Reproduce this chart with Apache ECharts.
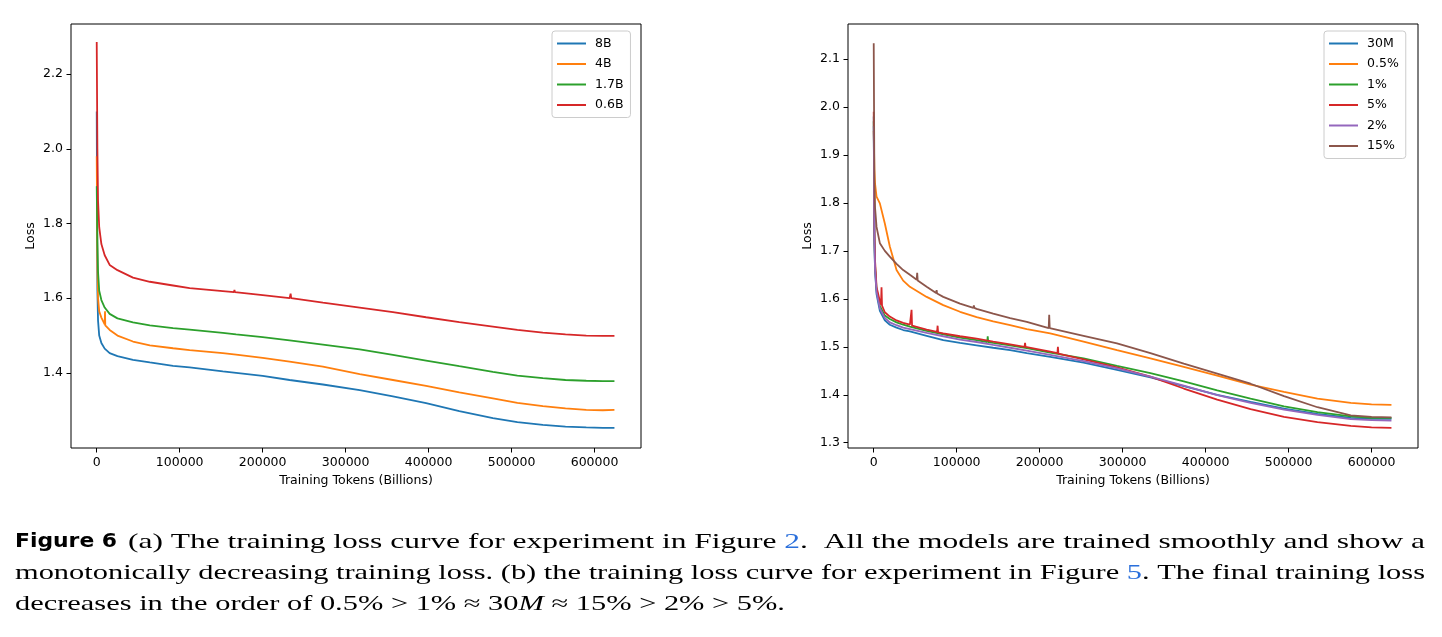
<!DOCTYPE html>
<html>
<head>
<meta charset="utf-8">
<script src="https://cdn.jsdelivr.net/npm/echarts@6/dist/echarts.min.js"></script>
<style>
  html, body { margin: 0; padding: 0; background: #fff; }
  #main { width: 1442px; height: 637px; }
</style>
</head>
<body>
<div id="main"></div>
<script>
// ---- (a) model size runs ----
var tokensA = [0, 800, 1600, 3000, 5600, 9600, 15600, 25000, 43700, 64000, 92000, 112000, 152000, 168000,
    200000, 232500, 272600, 317000, 357000, 397000, 437000, 477500, 507000, 537700, 565000, 590000, 610000, 624000];
var loss8B = [2.10, 1.62, 1.54, 1.50, 1.48, 1.465, 1.453, 1.445, 1.435, 1.428, 1.419, 1.415, 1.404, 1.400,
    1.392, 1.381, 1.369, 1.354, 1.337, 1.319, 1.298, 1.279, 1.268, 1.261, 1.256, 1.254, 1.253, 1.253];
var loss4B = [1.98, 1.68, 1.60, 1.565, 1.548, 1.530, 1.515, 1.500, 1.484, 1.474, 1.466, 1.461, 1.453, 1.449,
    1.440, 1.430, 1.417, 1.397, 1.381, 1.365, 1.348, 1.332, 1.320, 1.311, 1.305, 1.301, 1.300, 1.301];
var loss17B = [1.90, 1.75, 1.67, 1.62, 1.595, 1.575, 1.558, 1.546, 1.535, 1.527, 1.520, 1.516, 1.507, 1.503,
    1.496, 1.487, 1.476, 1.463, 1.448, 1.433, 1.418, 1.403, 1.393, 1.386, 1.381, 1.379, 1.378, 1.378];
var loss06B = [2.286, 2.00, 1.86, 1.79, 1.745, 1.715, 1.689, 1.675, 1.655, 1.644, 1.634, 1.627, 1.619, 1.615,
    1.608, 1.600, 1.588, 1.575, 1.563, 1.549, 1.536, 1.524, 1.515, 1.508, 1.503, 1.500, 1.499, 1.499];
// short spikes [tokens, loss]
var spikes4B = [[9700, 1.529], [10000, 1.565], [10300, 1.527]];
var spikes06B = [[165400, 1.616], [166000, 1.622], [166600, 1.616], [233000, 1.600], [233700, 1.612], [234400, 1.600]];

// ---- (b) data mixture runs ----
var tokensB = [0, 800, 1600, 3400, 7400, 13400, 19400, 27500, 35500, 43600, 63800, 83800, 104000, 124000, 144000,
    164400, 184500, 212700, 252900, 293200, 333500, 373700, 414000, 454200, 494500, 534800, 575000, 600000, 624000];
var loss30M = [1.98, 1.72, 1.66, 1.61, 1.575, 1.555, 1.546, 1.540, 1.535, 1.532, 1.523, 1.514, 1.508, 1.503, 1.498,
    1.493, 1.487, 1.479, 1.467, 1.452, 1.436, 1.418, 1.400, 1.385, 1.371, 1.360, 1.352, 1.350, 1.350];
var loss05 = [1.95, 1.87, 1.84, 1.813, 1.799, 1.757, 1.709, 1.660, 1.638, 1.625, 1.604, 1.587, 1.573, 1.562, 1.553,
    1.545, 1.537, 1.528, 1.511, 1.493, 1.476, 1.458, 1.440, 1.421, 1.406, 1.392, 1.383, 1.380, 1.379];
var loss1 = [1.97, 1.73, 1.67, 1.62, 1.585, 1.565, 1.558, 1.551, 1.546, 1.542, 1.533, 1.526, 1.519, 1.514, 1.508,
    1.503, 1.497, 1.488, 1.476, 1.460, 1.445, 1.428, 1.409, 1.392, 1.376, 1.364, 1.355, 1.352, 1.352];
var loss5 = [1.99, 1.75, 1.68, 1.625, 1.595, 1.572, 1.563, 1.555, 1.550, 1.546, 1.536, 1.528, 1.522, 1.517, 1.511,
    1.505, 1.499, 1.490, 1.474, 1.457, 1.438, 1.413, 1.390, 1.370, 1.354, 1.343, 1.335, 1.332, 1.331];
var loss2 = [1.96, 1.72, 1.66, 1.615, 1.580, 1.560, 1.551, 1.545, 1.540, 1.537, 1.529, 1.522, 1.515, 1.510, 1.504,
    1.498, 1.492, 1.483, 1.470, 1.455, 1.438, 1.419, 1.399, 1.383, 1.369, 1.358, 1.349, 1.347, 1.346];
var loss15 = [2.133, 1.85, 1.79, 1.750, 1.716, 1.700, 1.688, 1.673, 1.660, 1.650, 1.625, 1.604, 1.590, 1.579, 1.569,
    1.560, 1.552, 1.538, 1.523, 1.507, 1.487, 1.465, 1.444, 1.423, 1.397, 1.374, 1.357, 1.354, 1.353];
var spikes5 = [[8800, 1.588], [9400, 1.624], [10000, 1.586], [45000, 1.545], [45600, 1.577], [46200, 1.544],
    [76400, 1.531], [77000, 1.544], [77600, 1.530], [181800, 1.500], [182400, 1.508], [183000, 1.500],
    [221400, 1.487], [222000, 1.500], [222600, 1.486]];
var spikes1 = [[136800, 1.510], [137400, 1.522], [138000, 1.510]];
var spikes15 = [[51800, 1.640], [52400, 1.654], [53000, 1.638], [75200, 1.612], [75800, 1.618], [76400, 1.611],
    [120100, 1.581], [120700, 1.586], [121300, 1.581], [210900, 1.539], [211500, 1.567], [212100, 1.539]];

var xTicks = [0, 100000, 200000, 300000, 400000, 500000, 600000];
var yTicksA = [1.4, 1.6, 1.8, 2.0, 2.2];
var yTicksB = [1.3, 1.4, 1.5, 1.6, 1.7, 1.8, 1.9, 2.0, 2.1];

var namesA = ['8B', '4B', '1.7B', '0.6B'];
var namesB = ['30M', '0.5%', '1%', '5%', '2%', '15%'];

var C = ['#1f77b4', '#ff7f0e', '#2ca02c', '#d62728', '#9467bd', '#8c564b'];
var FONT = 'DejaVu Sans';

function pts(tokens, vals, extra) {
    var out = tokens.map(function(t, i) { return [t, vals[i]]; });
    if (extra) out = out.concat(extra);
    return out.sort(function(a, b) { return a[0] - b[0]; });
}

function line(name, idx, color, data) {
    return {
        name: name, type: 'line', xAxisIndex: idx, yAxisIndex: idx,
        data: data, symbol: 'none', showSymbol: false,
        lineStyle: { width: 1.8, color: color }, itemStyle: { color: color }
    };
}

function xAxis(idx) {
    return {
        type: 'value', gridIndex: idx, min: -31000, max: 656000,
        name: 'Training Tokens (Billions)', nameLocation: 'middle', nameGap: 26,
        nameTextStyle: { color: '#000', fontSize: 12.5, fontFamily: FONT },
        axisLine: { show: false, onZero: false }, splitLine: { show: false },
        axisTick: { show: true, length: 4.5, customValues: xTicks, lineStyle: { color: '#000' } },
        axisLabel: { customValues: xTicks, color: '#000', fontSize: 12.5, fontFamily: FONT, margin: 8,
            formatter: function(v) { return String(v); } }
    };
}

function yAxis(idx, min, max, ticks) {
    return {
        type: 'value', gridIndex: idx, min: min, max: max,
        name: 'Loss', nameLocation: 'middle', nameGap: 34, nameRotate: 90,
        nameTextStyle: { color: '#000', fontSize: 12.5, fontFamily: FONT },
        axisLine: { show: false, onZero: false }, splitLine: { show: false },
        axisTick: { show: true, length: 4.5, customValues: ticks, lineStyle: { color: '#000' } },
        axisLabel: { customValues: ticks, color: '#000', fontSize: 12.5, fontFamily: FONT, margin: 8,
            formatter: function(v) { return v.toFixed(1); } }
    };
}

function legend(names, left) {
    return {
        data: names, orient: 'vertical', left: left, top: 31,
        icon: 'rect', itemWidth: 29, itemHeight: 2, itemGap: 5.5,
        padding: [5, 7, 5, 5],
        backgroundColor: 'rgba(255,255,255,0.8)', borderColor: '#cccccc', borderWidth: 1, borderRadius: 3,
        textStyle: { color: '#000', fontSize: 12.5, fontFamily: FONT, lineHeight: 15, padding: [0, 0, 0, 4] }
    };
}

// caption, laid out line by line and stretched to the text block width
var ctx = document.createElement('canvas').getContext('2d');
var SERIF = '21px "Liberation Serif"';
var SERIF_I = 'italic 21px "Liberation Serif"';
var BLUE = '#2a6fdb';

function captionLine(segs, x0, y, target, scale) {
    var w = [], total = 0;
    segs.forEach(function(s) { ctx.font = s[1]; var m = ctx.measureText(s[0]).width; w.push(m); total += m; });
    var k = scale || target / total;
    var x = x0, els = [];
    segs.forEach(function(s, i) {
        els.push({ type: 'text', x: x, y: y, scaleX: k, silent: true,
            style: { text: s[0], font: s[1], fill: s[2] || '#000', verticalAlign: 'middle', textVerticalAlign: 'middle' } });
        x += w[i] * k;
    });
    return { els: els, k: k };
}

var figLabel = captionLine([['Figure 6', 'bold 20px "DejaVu Sans"']], 15, 542, 102);
var line1 = captionLine([
    ['(a) The training loss curve for experiment in Figure ', SERIF],
    ['2', SERIF, BLUE],
    ['.  All the models are trained smoothly and show a', SERIF]
], 128, 542, 1297);
var line2 = captionLine([
    ['monotonically decreasing training loss. (b) the training loss curve for experiment in Figure ', SERIF],
    ['5', SERIF, BLUE],
    ['. The final training loss', SERIF]
], 15, 573, 1410);
var line3 = captionLine([
    ['decreases in the order of 0.5% > 1% \u2248 30', SERIF],
    ['M', SERIF_I],
    [' \u2248 15% > 2% > 5%.', SERIF]
], 15, 604, 0, line2.k);

var chart = echarts.init(document.getElementById('main'));
chart.setOption({
    animation: false,
    backgroundColor: '#fff',
    grid: [
        { left: 71, top: 24, width: 570, height: 424, show: true, borderColor: '#000', borderWidth: 1, outerBoundsMode: 'none' },
        { left: 848, top: 24, width: 570, height: 424, show: true, borderColor: '#000', borderWidth: 1, outerBoundsMode: 'none' }
    ],
    xAxis: [xAxis(0), xAxis(1)],
    yAxis: [yAxis(0, 1.199, 2.334, yTicksA), yAxis(1, 1.289, 2.173, yTicksB)],
    legend: [legend(namesA, 552), legend(namesB, 1324)],
    series: [
        line('8B', 0, C[0], pts(tokensA, loss8B)),
        line('4B', 0, C[1], pts(tokensA, loss4B, spikes4B)),
        line('1.7B', 0, C[2], pts(tokensA, loss17B)),
        line('0.6B', 0, C[3], pts(tokensA, loss06B, spikes06B)),
        line('30M', 1, C[0], pts(tokensB, loss30M)),
        line('0.5%', 1, C[1], pts(tokensB, loss05)),
        line('1%', 1, C[2], pts(tokensB, loss1, spikes1)),
        line('5%', 1, C[3], pts(tokensB, loss5, spikes5)),
        line('2%', 1, C[4], pts(tokensB, loss2)),
        line('15%', 1, C[5], pts(tokensB, loss15, spikes15))
    ],
    graphic: [].concat(figLabel.els, line1.els, line2.els, line3.els)
});
</script>
</body>
</html>
